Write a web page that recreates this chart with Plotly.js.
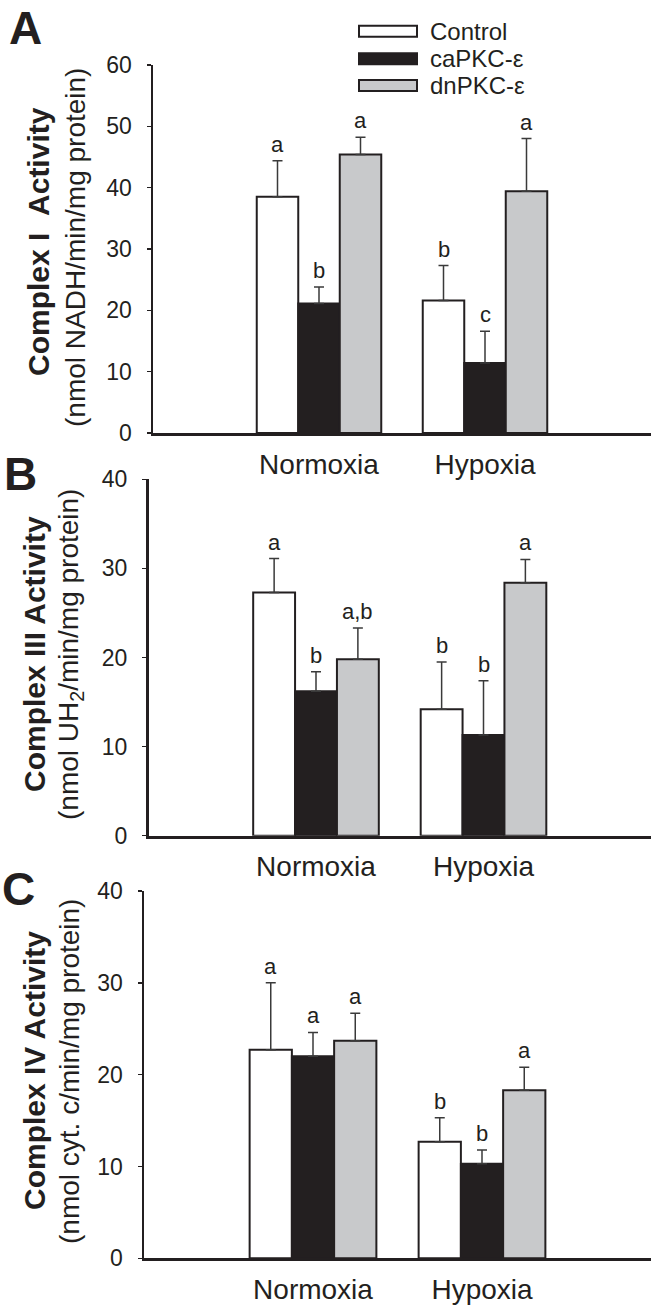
<!DOCTYPE html>
<html>
<head>
<meta charset="utf-8">
<script src="https://cdn.plot.ly/plotly-3.0.1.min.js"></script>
<style>html,body{margin:0;padding:0;background:#fff;}#chart{width:651px;height:1310px;}</style>
</head>
<body>
<div id="chart"></div>
<script>
// ---------- DATA ----------
const categories = ['Normoxia', 'Hypoxia'];
const seriesNames = ['Control', 'caPKC-ε', 'dnPKC-ε'];
const seriesColors = ['#ffffff', '#231f20', '#c8c9cb'];

// Panel A: Complex I
const complexI_control = [38.5, 21.6];
const complexI_control_err = [5.9, 5.7];
const complexI_caPKC = [21.1, 11.4];
const complexI_caPKC_err = [2.7, 5.2];
const complexI_dnPKC = [45.4, 39.4];
const complexI_dnPKC_err = [2.8, 8.6];
const complexI_letters_control = ['a', 'b'];
const complexI_letters_caPKC = ['b', 'c'];
const complexI_letters_dnPKC = ['a', 'a'];

// Panel B: Complex III
const complexIII_control = [27.3, 14.2];
const complexIII_control_err = [3.8, 5.3];
const complexIII_caPKC = [16.2, 11.3];
const complexIII_caPKC_err = [2.2, 6.1];
const complexIII_dnPKC = [19.8, 28.4];
const complexIII_dnPKC_err = [3.5, 2.6];
const complexIII_letters_control = ['a', 'b'];
const complexIII_letters_caPKC = ['b', 'b'];
const complexIII_letters_dnPKC = ['a,b', 'a'];

// Panel C: Complex IV
const complexIV_control = [22.7, 12.7];
const complexIV_control_err = [7.3, 2.6];
const complexIV_caPKC = [22.0, 10.3];
const complexIV_caPKC_err = [2.6, 1.5];
const complexIV_dnPKC = [23.7, 18.3];
const complexIV_dnPKC_err = [3.0, 2.5];
const complexIV_letters_control = ['a', 'b'];
const complexIV_letters_caPKC = ['a', 'b'];
const complexIV_letters_dnPKC = ['a', 'a'];

const panelLabels = ['A', 'B', 'C'];
const titlesBold = ['Complex I\u00a0\u00a0Activity', 'Complex III Activity', 'Complex IV Activity'];
const titlesUnit = ['(nmol NADH/min/mg protein)', '(nmol UH<sub>2</sub>/min/mg protein)', '(nmol cyt. c/min/mg protein)'];
const yMax = [60, 40, 40];

// ---------- BUILD ----------
const W = 651, H = 1310;
const FONT = '"Liberation Sans", Arial, Helvetica, sans-serif';
const INK = '#231f20';
const BARGAP = 0.25;

const panels = [
  {vals: [complexI_control, complexI_caPKC, complexI_dnPKC],
   errs: [complexI_control_err, complexI_caPKC_err, complexI_dnPKC_err],
   letters: [complexI_letters_control, complexI_letters_caPKC, complexI_letters_dnPKC]},
  {vals: [complexIII_control, complexIII_caPKC, complexIII_dnPKC],
   errs: [complexIII_control_err, complexIII_caPKC_err, complexIII_dnPKC_err],
   letters: [complexIII_letters_control, complexIII_letters_caPKC, complexIII_letters_dnPKC]},
  {vals: [complexIV_control, complexIV_caPKC, complexIV_dnPKC],
   errs: [complexIV_control_err, complexIV_caPKC_err, complexIV_dnPKC_err],
   letters: [complexIV_letters_control, complexIV_letters_caPKC, complexIV_letters_dnPKC]}
];

// layout geometry (pixels)
const axisLeft = [153, 148.5, 144];
const plotTop = [65, 479.3, 891];
const plotBottom = [433, 835.7, 1258.3];
const boldPos = [[38, 242], [34, 654], [34, 1071]];
const unitPos = [[75, 248], [70, 655], [69, 1072]];
const labelPos = [[25, 28], [20.5, 474], [18, 889]];

const data = [];
const annotations = [];
const shapes = [];
const layout = {
  width: W, height: H,
  margin: {l: 0, r: 0, t: 0, b: 0},
  paper_bgcolor: '#fff', plot_bgcolor: '#fff',
  showlegend: false,
  barmode: 'group', bargap: BARGAP, bargroupgap: 0,
  font: {family: FONT, color: INK}
};

const groupW = 1 - BARGAP;
const barW = groupW / seriesNames.length;

panels.forEach((p, k) => {
  const sfx = k === 0 ? '' : String(k + 1);
  const xa = 'x' + sfx, ya = 'y' + sfx;
  p.vals.forEach((v, i) => {
    data.push({
      type: 'bar', name: seriesNames[i], x: categories, y: v,
      xaxis: xa, yaxis: ya,
      marker: {color: seriesColors[i], line: {color: INK, width: 2}},
      error_y: {type: 'data', symmetric: false, array: p.errs[i],
                arrayminus: p.errs[i].map(() => 0),
                color: '#3a3a3a', thickness: 1.5, width: 5},
      hoverinfo: 'skip'
    });
    // significance letters
    categories.forEach((c, j) => {
      annotations.push({
        xref: xa, yref: ya,
        x: j - groupW / 2 + barW * (i + 0.5),
        y: v[j] + p.errs[i][j],
        text: p.letters[i][j], showarrow: false,
        xanchor: 'center', yanchor: 'bottom', yshift: 2,
        font: {size: 22, family: FONT, color: INK}
      });
    });
  });
  layout['xaxis' + sfx] = {
    domain: [axisLeft[k] / W, 1], anchor: ya,
    type: 'category', categoryarray: categories, range: [-1, 2],
    showline: true, linewidth: 3, linecolor: INK,
    ticks: '', showgrid: false, zeroline: false,
    tickfont: {size: 28, family: FONT, color: INK},
    ticklabelstandoff: 4, fixedrange: true
  };
  layout['yaxis' + sfx] = {
    domain: [(H - plotBottom[k]) / H, (H - plotTop[k]) / H], anchor: xa,
    range: [0, yMax[k]], dtick: 10, tick0: 0,
    showline: true, linewidth: 2.5, linecolor: INK,
    ticks: 'outside', ticklen: 4, tickwidth: 1.5, tickcolor: INK,
    showgrid: false, zeroline: false,
    tickfont: {size: 23, family: FONT, color: INK},
    ticklabelstandoff: 10, fixedrange: true
  };
  // axis titles
  annotations.push({
    xref: 'paper', yref: 'paper', x: boldPos[k][0] / W, y: (H - boldPos[k][1]) / H,
    text: '<b>' + titlesBold[k] + '</b>', textangle: -90, showarrow: false,
    xanchor: 'center', yanchor: 'middle',
    font: {size: 30, family: FONT, color: INK}
  });
  annotations.push({
    xref: 'paper', yref: 'paper', x: unitPos[k][0] / W, y: (H - unitPos[k][1]) / H,
    text: titlesUnit[k], textangle: -90, showarrow: false,
    xanchor: 'center', yanchor: 'middle',
    font: {size: 28, family: FONT, color: INK}
  });
  // panel letters
  annotations.push({
    xref: 'paper', yref: 'paper', x: labelPos[k][0] / W, y: (H - labelPos[k][1]) / H,
    text: '<b>' + panelLabels[k] + '</b>', showarrow: false,
    xanchor: 'center', yanchor: 'middle',
    font: {size: 46, family: FONT, color: INK}
  });
});

// custom legend (wide swatches)
const legX0 = 359, legX1 = 417, legTextX = 428;
const legY = [31.2, 58.7, 85.5];
seriesNames.forEach((n, i) => {
  shapes.push({
    type: 'rect', xref: 'paper', yref: 'paper',
    x0: legX0 / W, x1: legX1 / W,
    y0: (H - legY[i] - 5.5) / H, y1: (H - legY[i] + 5.5) / H,
    fillcolor: seriesColors[i], line: {color: INK, width: 2}
  });
  annotations.push({
    xref: 'paper', yref: 'paper', x: legTextX / W, y: (H - legY[i]) / H,
    text: n, showarrow: false, xanchor: 'left', yanchor: 'middle',
    font: {size: 24, family: FONT, color: INK}
  });
});

layout.annotations = annotations;
layout.shapes = shapes;

Plotly.newPlot('chart', data, layout, {staticPlot: true, displayModeBar: false});
</script>
</body>
</html>
